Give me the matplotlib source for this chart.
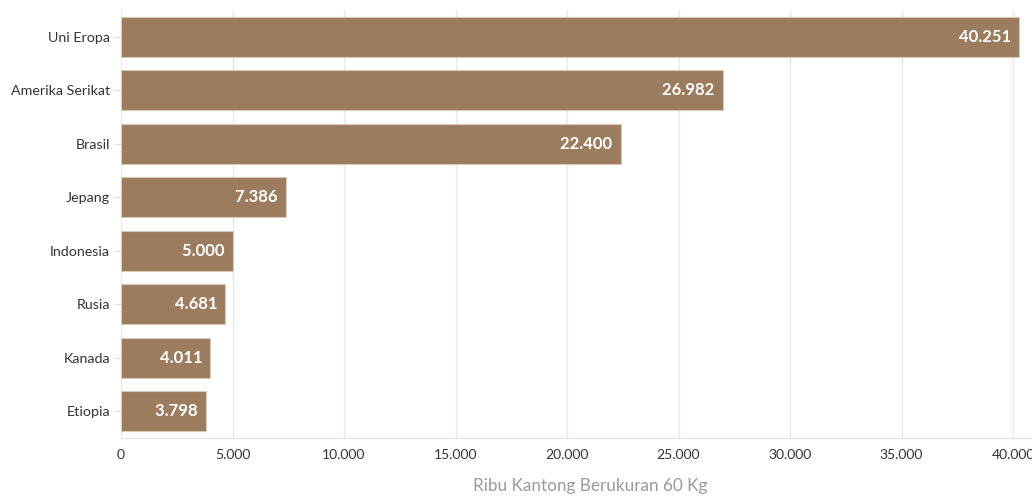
import matplotlib.pyplot as plt
from matplotlib.ticker import FuncFormatter

countries = ["Uni Eropa", "Amerika Serikat", "Brasil", "Jepang", "Indonesia", "Rusia", "Kanada", "Etiopia"]
values = [40251, 26982, 22400, 7386, 5000, 4681, 4011, 3798]
ticks = [0, 5000, 10000, 15000, 20000, 25000, 30000, 35000, 40000]

plt.rcParams['font.family'] = ['Lato', 'DejaVu Sans']

def fmt(v):
    return f"{int(v):,}".replace(",", ".")

fig = plt.figure(figsize=(10.32, 5), dpi=100)
ax = fig.add_axes([121 / 1032, 62 / 500, 1 - 121 / 1032, 428 / 500])

ypos = list(range(len(countries)))
ax.barh(ypos, values, height=0.75, color="#9c7c5e",
        edgecolor="#d9c8b8", linewidth=0.8, zorder=2)

for y, v in zip(ypos, values):
    ax.text(v, y, fmt(v) + "  ", ha="right", va="center", color="white",
            fontsize=12, fontweight="bold", zorder=3)

ax.set_yticks(ypos)
ax.set_yticklabels(countries, fontsize=10.3, color="#333333")
ax.set_ylim(len(countries) - 0.5, -0.5)
ax.set_xlim(0, 40850)
ax.set_xticks(ticks)
ax.xaxis.set_major_formatter(FuncFormatter(lambda v, p: fmt(v)))
ax.tick_params(axis="x", length=0, labelsize=10, labelcolor="#333333", pad=8)
ax.tick_params(axis="y", length=5, color="#dddddd", pad=3)
ax.grid(axis="x", color="#e8e8e8", linewidth=1, zorder=0)
for s in ["top", "right", "left"]:
    ax.spines[s].set_visible(False)
ax.spines["bottom"].set_color("#e3e3e3")

fig.text(590 / 1032, 6 / 500, "Ribu Kantong Berukuran 60 Kg", ha="center",
         va="bottom", fontsize=12.3, color="#999999")

fig.savefig("out.png", dpi=100)
